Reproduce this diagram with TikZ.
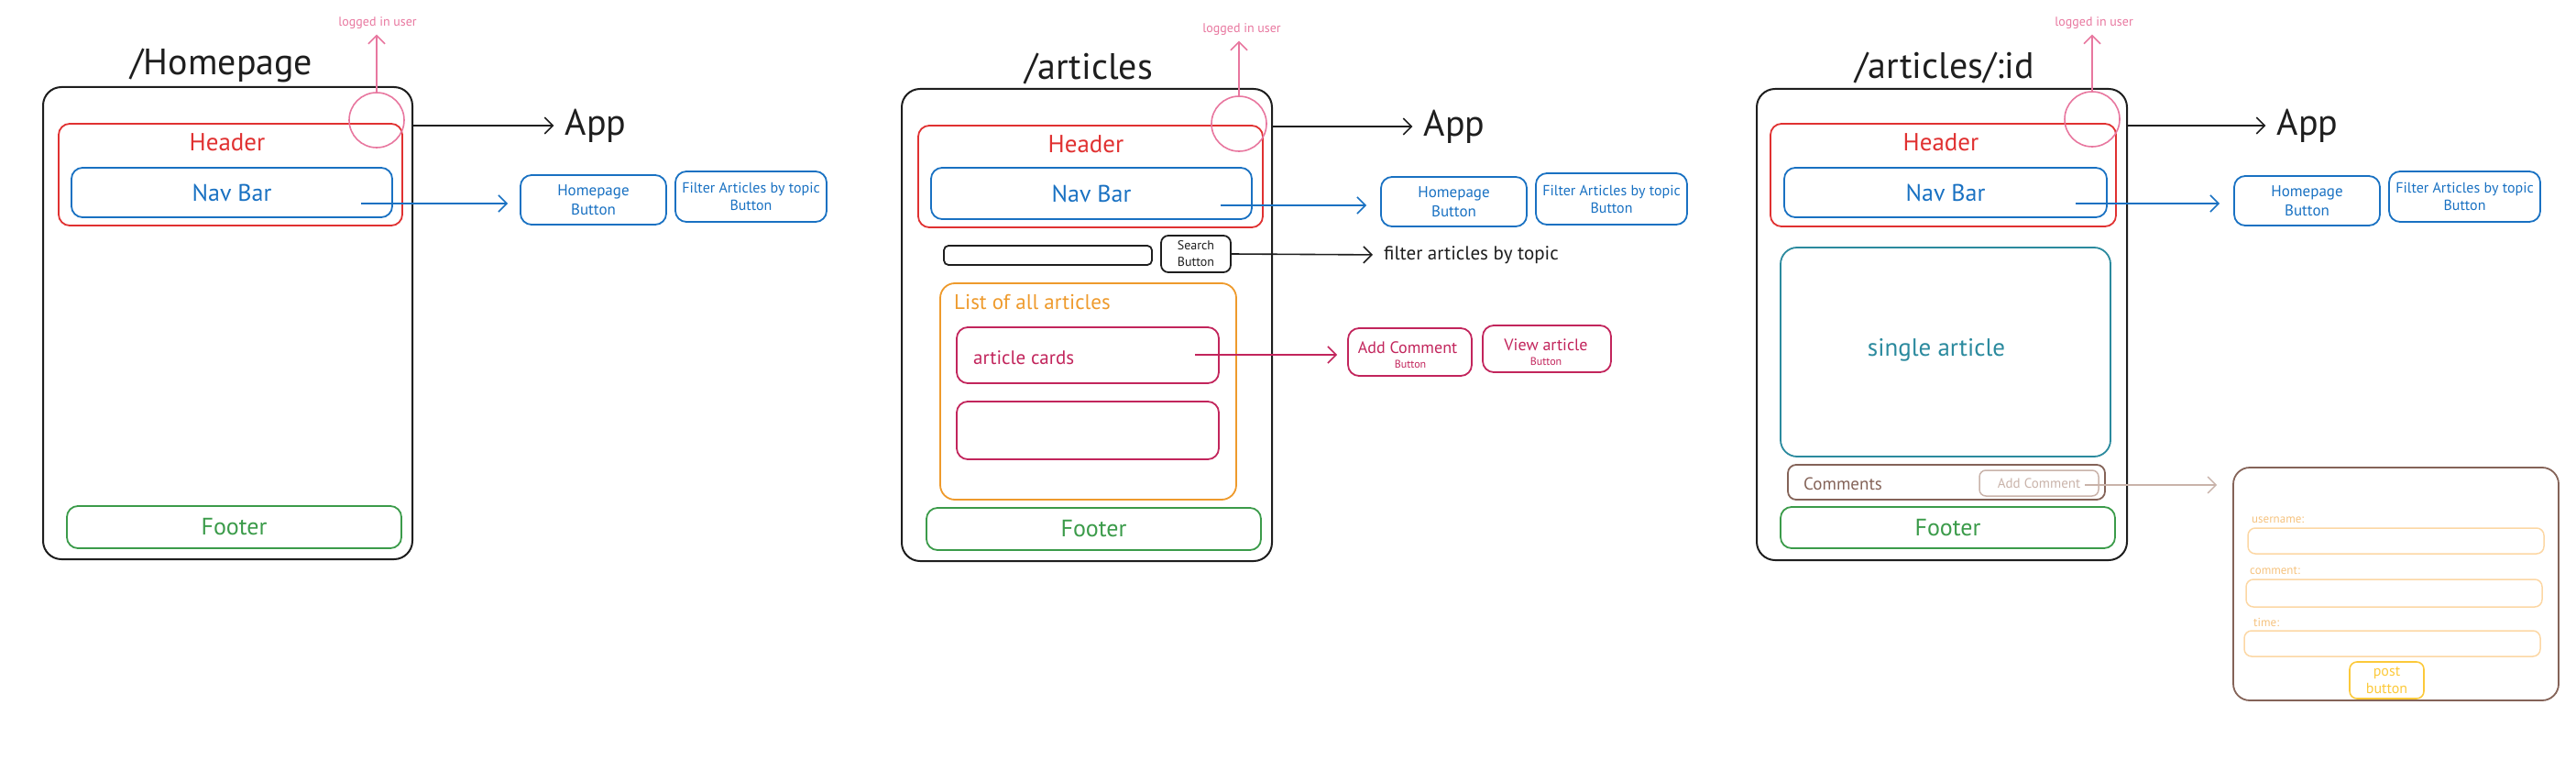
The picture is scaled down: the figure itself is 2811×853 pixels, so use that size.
\documentclass[tikz,border=0pt]{standalone}
\usepackage{fontspec}
\setmainfont{PT Sans}
\usetikzlibrary{arrows.meta}
\definecolor{ink}{HTML}{1E1E1E}
\definecolor{redc}{HTML}{E03131}
\definecolor{bluec}{HTML}{1971C2}
\definecolor{pinkc}{HTML}{E8779F}
\definecolor{greenc}{HTML}{3B9B4A}
\definecolor{orangec}{HTML}{EE9A2C}
\definecolor{crimc}{HTML}{C2255C}
\definecolor{tealc}{HTML}{2B8A9E}
\definecolor{brownc}{HTML}{846358}
\definecolor{lbrown}{HTML}{C9B3AA}
\definecolor{lorange}{HTML}{FCD7A4}
\definecolor{lotext}{HTML}{F5C27E}
\definecolor{yellowc}{HTML}{FCC93A}
\newcommand\myfs[2]{\fontsize{#1}{#2}\selectfont}
\begin{document}
\begin{tikzpicture}[x=1pt,y=-1pt,
  frame/.style={draw=ink, line width=2pt, rounded corners=20pt, inner sep=0pt},
  bx/.style={draw=#1, text=#1, line width=1.8pt, rounded corners=12pt, inner sep=0pt, align=center},
  txt/.style={inner sep=0pt, text=#1},
  arr/.style={draw=#1, line width=1.6pt, -{Straight Barb[length=9pt,width=18pt]}},
  circ/.style={draw=pinkc, line width=1.6pt, circle, minimum size=60pt, inner sep=0pt},
  title/.style={inner sep=0pt, text=ink, font=\myfs{40}{44}},
  hdr/.style={inner sep=0pt, text=redc, font=\myfs{27}{30}},
  big/.style={font=\myfs{26}{30}},
  btn/.style={font=\myfs{17}{21}},
  fbtn/.style={font=\myfs{16}{19}},
  lu/.style={inner sep=0pt, text=pinkc, font=\myfs{14}{16}},
  app/.style={inner sep=0pt, text=ink, font=\myfs{40}{44}}
]
\useasboundingbox (0,0) rectangle (2811,853);

% ================= Panel 1 =================
\node[title] (t1) at (242,72) {/Homepage};
\node[frame, minimum width=403pt, minimum height=515pt] (p1) at (248.5,352.5) {};
\node[bx=redc, minimum width=375pt, minimum height=111pt] (h1) at (251.5,190.5) {};
\node[hdr] (hl1) at (248,155) {Header};
\node[bx=bluec, big, minimum width=350pt, minimum height=54pt] (n1) at (253,210) {Nav Bar};
\node[circ] (c1) at (411,131) {};
\node[lu] (lu1) at (412,25) {logged in user};
\node[app] (app1) at (650,137) {App};
\node[bx=bluec, btn, minimum width=159pt, minimum height=54pt] (hb1) at (647.5,218) {Homepage\\Button};
\node[bx=bluec, fbtn, minimum width=165pt, minimum height=55pt] (fb1) at (819.5,214.5) {Filter Articles by topic\\Button};
\node[bx=greenc, big, minimum width=365pt, minimum height=46pt] (f1) at (255.5,575) {Footer};
\coordinate (ns1) at (394,222);
\draw[arr=pinkc, shorten >=6pt] (c1.north) -- (c1.north |- lu1.south);
\draw[arr=ink, shorten >=12pt] (p1.east |- app1) -- (app1.west);
\draw[arr=bluec, shorten >=13pt] (ns1) -- (hb1.west |- ns1);

% ================= Panel 2 =================
\node[title] (t2) at (1188,75) {/articles};
\node[frame, minimum width=404pt, minimum height=515pt] (p2) at (1186,354.5) {};
\node[bx=redc, minimum width=376pt, minimum height=111pt] (h2) at (1190,192.5) {};
\node[hdr] (hl2) at (1185,157) {Header};
\node[bx=bluec, big, minimum width=350pt, minimum height=56pt] (n2) at (1191,211) {Nav Bar};
\node[circ] (c2) at (1352,135) {};
\node[lu] (lu2) at (1355,32) {logged in user};
\node[app] (app2) at (1587,138) {App};
\node[bx=bluec, btn, minimum width=159pt, minimum height=54pt] (hb2) at (1586.5,220) {Homepage\\Button};
\node[bx=bluec, fbtn, minimum width=165pt, minimum height=56pt] (fb2) at (1758.5,217) {Filter Articles by topic\\Button};
\node[draw=ink, line width=1.8pt, rounded corners=5pt, minimum width=227pt, minimum height=21pt, inner sep=0pt] (sf2) at (1143.5,278.5) {};
\node[bx=ink, font=\myfs{14}{18}, minimum width=76pt, minimum height=40pt, rounded corners=8pt] (sb2) at (1305,277) {Search\\Button};
\node[txt=ink, anchor=west, font=\myfs{21}{24}] (fat2) at (1510,278) {filter articles by topic};
\node[bx=orangec, minimum width=323pt, minimum height=236pt, rounded corners=16pt] (l2) at (1187.5,427) {};
\node[txt=orangec, anchor=west, font=\myfs{23}{26}] (ll2) at (1041,329) {List of all articles};
\node[bx=crimc, minimum width=286pt, minimum height=61pt] (ac2a) at (1187,387.5) {};
\node[txt=crimc, anchor=west, font=\myfs{21}{24}] (acl2) at (1062,390) {article cards};
\node[bx=crimc, minimum width=286pt, minimum height=63pt] (ac2b) at (1187,469.5) {};
\node[bx=crimc, minimum width=135pt, minimum height=52pt] (acb2) at (1538.5,384) {};
\node[txt=crimc, font=\myfs{18}{20}] (acbt2) at (1536,379) {Add Comment};
\node[txt=crimc, font=\myfs{12}{14}] (acbb2) at (1539,397) {Button};
\node[bx=crimc, minimum width=140pt, minimum height=51pt] (va2) at (1688,380.5) {};
\node[txt=crimc, font=\myfs{18}{20}] (vat2) at (1687,376) {View article};
\node[txt=crimc, font=\myfs{12}{14}] (vab2) at (1687,394) {Button};
\node[bx=greenc, big, minimum width=365pt, minimum height=46pt] (f2) at (1193.5,577) {Footer};
\coordinate (ns2) at (1332,224);
\coordinate (as2) at (1304,387);
\draw[arr=pinkc, shorten >=6pt] (c2.north) -- (c2.north |- lu2.south);
\draw[arr=ink, shorten >=12pt] (p2.east |- app2) -- (app2.west);
\draw[arr=bluec, shorten >=15pt] (ns2) -- (hb2.west |- ns2);
\draw[arr=ink, shorten >=12pt] (sb2.east) -- (fat2.west);
\draw[arr=crimc, shorten >=11pt] (as2) -- (acb2.west |- as2);

% ================= Panel 3 =================
\node[title] (t3) at (2122,74) {/articles/:id};
\node[frame, minimum width=404pt, minimum height=514pt] (p3) at (2119,354) {};
\node[bx=redc, minimum width=377pt, minimum height=112pt] (h3) at (2120.5,191) {};
\node[hdr] (hl3) at (2118,155) {Header};
\node[bx=bluec, big, minimum width=352pt, minimum height=54pt] (n3) at (2123,210) {Nav Bar};
\node[circ] (c3) at (2283,130) {};
\node[lu] (lu3) at (2285,25) {logged in user};
\node[app] (app3) at (2518,137) {App};
\node[bx=bluec, btn, minimum width=159pt, minimum height=54pt] (hb3) at (2517.5,219) {Homepage\\Button};
\node[bx=bluec, fbtn, minimum width=165pt, minimum height=55pt] (fb3) at (2689.5,214.5) {Filter Articles by topic\\Button};
\node[bx=tealc, minimum width=360pt, minimum height=228pt, rounded corners=18pt] (sa3) at (2123,384) {};
\node[txt=tealc, font=\myfs{27}{30}] (sat3) at (2113,382) {single article};
\node[bx=brownc, minimum width=346pt, minimum height=38pt, rounded corners=9pt] (cm3) at (2124,526) {};
\node[txt=brownc, anchor=west, font=\myfs{19}{22}] (cmt3) at (1968,528) {Comments};
\node[bx=lbrown, font=\myfs{15}{18}, minimum width=130pt, minimum height=28pt, rounded corners=7pt, line width=1.5pt] (ad3) at (2225,527) {Add Comment};
\node[bx=greenc, big, minimum width=365pt, minimum height=45pt] (f3) at (2125.5,575.5) {Footer};
\node[draw=brownc, line width=1.8pt, rounded corners=18pt, minimum width=355pt, minimum height=254pt, inner sep=0pt] (fm3) at (2614.5,637) {};
\node[txt=lotext, anchor=west, font=\myfs{13}{15}] (ul3) at (2457,567) {username:};
\node[bx=lorange, line width=1.5pt, rounded corners=8pt, minimum width=323pt, minimum height=28pt] (uf3) at (2614.5,590) {};
\node[txt=lotext, anchor=west, font=\myfs{13}{15}] (cl3) at (2455,623) {comment:};
\node[bx=lorange, line width=1.5pt, rounded corners=8pt, minimum width=323pt, minimum height=30pt] (cf3) at (2612.5,647) {};
\node[txt=lotext, anchor=west, font=\myfs{13}{15}] (tl3) at (2459,679) {time:};
\node[bx=lorange, line width=1.5pt, rounded corners=8pt, minimum width=323pt, minimum height=28pt] (tf3) at (2610.5,702) {};
\node[bx=yellowc, font=\myfs{16}{19}, line width=1.6pt, rounded corners=8pt, minimum width=81pt, minimum height=40pt] (pb3) at (2604.5,742) {post\\button};
\coordinate (ns3) at (2265,222);
\coordinate (ads3) at (2275,529);
\draw[arr=pinkc, shorten >=6pt] (c3.north) -- (c3.north |- lu3.south);
\draw[arr=ink, shorten >=12pt] (p3.east |- app3) -- (app3.west);
\draw[arr=bluec, shorten >=15pt] (ns3) -- (hb3.west |- ns3);
\draw[arr=lbrown, line width=1.4pt, shorten >=17pt] (ads3) -- (fm3.west |- ads3);
\end{tikzpicture}
\end{document}
